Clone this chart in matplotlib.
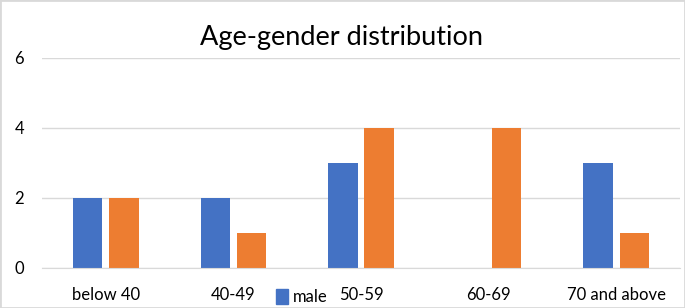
import matplotlib
matplotlib.use("Agg")
import matplotlib.pyplot as plt
import numpy as np
from matplotlib.patches import Rectangle, Patch

categories = ["below 40", "40-49", "50-59", "60-69", "70 and above"]
male = [2, 2, 3, 0, 3]
female = [2, 1, 4, 4, 1]
yticks = [0, 2, 4, 6]

plt.rcParams['font.family'] = ['Lato', 'DejaVu Sans']

W, H = 685, 308
fig = plt.figure(figsize=(W/100, H/100), dpi=100)
ax = fig.add_axes([42/W, 1-268/H, (680-42)/W, (268-58)/H])

x = np.arange(len(categories))
bw = 0.23
off = 0.142
ax.bar(x - off, male, bw, color="#4472C4", label="male", zorder=3)
ax.bar(x + off, female, bw, color="#ED7D31", label="female", zorder=3)

ax.set_xlim(-0.5, len(categories) - 0.5)
ax.set_ylim(0, 6)
ax.set_yticks(yticks)
ax.set_xticks(x)
ax.set_xticklabels(categories, fontsize=12)
ax.tick_params(axis='y', labelsize=12, length=0, pad=13)
ax.tick_params(axis='x', length=0, pad=14)
ax.grid(axis='y', color="#d9d9d9", linewidth=1, zorder=0)
for s in ["top", "right", "left"]:
    ax.spines[s].set_visible(False)
ax.spines["bottom"].set_color("#d9d9d9")
ax.spines["bottom"].set_zorder(4)

fig.text(342/W, 1-38/H, "Age-gender distribution", ha="center", va="center", fontsize=19.5)

fig.legend(handles=[Patch(color="#4472C4", label="male")], loc="center",
           bbox_to_anchor=(302/W, 1-297/H), frameon=False, fontsize=12,
           handlelength=0.75, handleheight=1.0, handletextpad=0.3)

fig.patches.append(Rectangle((0, 0), 1, 1, transform=fig.transFigure, fill=False,
                             edgecolor="#d9d9d9", linewidth=2, zorder=10))

fig.savefig("out.png", dpi=100)
